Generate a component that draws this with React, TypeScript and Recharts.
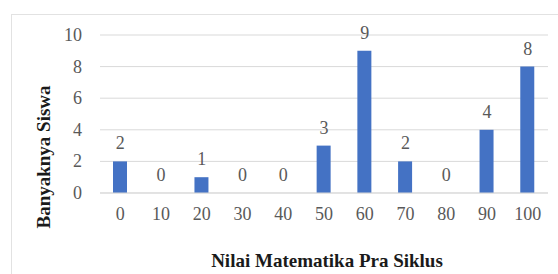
import React from 'react';
import { ComposedChart, Bar, Line, XAxis, YAxis, CartesianGrid, LabelList } from 'recharts';

const categories = ['0', '10', '20', '30', '40', '50', '60', '70', '80', '90', '100'];
const counts = [2, 0, 1, 0, 0, 3, 9, 2, 0, 4, 8];
const yTicks = [0, 2, 4, 6, 8, 10];
const xTitle = 'Nilai Matematika Pra Siklus';
const yTitle = 'Banyaknya Siswa';

const data = categories.map((c, i) => ({ nilai: c, jumlah: counts[i] }));

const FONT = '"Liberation Serif"';
const GRAY = '#595959';
const TICK_STYLE = { fontFamily: FONT, fontSize: 18 };

const YTitle = (props: any) => {
  const vb = props.viewBox || { x: 0, y: 0, width: 0, height: 0 };
  const cx = vb.x + 43;
  const cy = vb.y + vb.height / 2 + 43;
  return (
    <text x={cx} y={cy} transform={`rotate(-90 ${cx} ${cy})`} textAnchor="middle" dominantBaseline="central"
      style={{ fontFamily: FONT, fontSize: 19, fontWeight: 'bold' }} fill="#1a1a1a">{yTitle}</text>
  );
};

const XTitle = (props: any) => {
  const vb = props.viewBox || { x: 0, y: 0, width: 0, height: 0 };
  const cx = vb.x + vb.width / 2 + 3;
  const cy = vb.y + 74;
  return (
    <text x={cx} y={cy} textAnchor="middle" style={{ fontFamily: FONT, fontSize: 19, fontWeight: 'bold' }} fill="#1a1a1a">{xTitle}</text>
  );
};

const XTick = (props: any) => {
  const { x, y, payload } = props;
  return (
    <text x={x} y={y + 14} textAnchor="middle" dominantBaseline="hanging" fill={GRAY} style={TICK_STYLE}>{payload.value}</text>
  );
};

const YTick = (props: any) => {
  const { x, y, payload } = props;
  return (
    <text x={x - 18} y={y} textAnchor="end" dominantBaseline="central" fill={GRAY} style={TICK_STYLE}>{payload.value}</text>
  );
};

const ValueLabel = (props: any) => {
  const { x, y, value } = props;
  return (
    <text x={x} y={y - 12} textAnchor="middle" fill={GRAY} style={TICK_STYLE}>{value}</text>
  );
};

export default function App() {
  return (
    <div style={{ position: 'absolute', left: 0, top: 0, width: 558, height: 274, background: '#fff', overflow: 'hidden' }}>
      <div style={{ position: 'absolute', left: 11, top: 14, width: 600, height: 300, border: '1px solid #e2e2e2' }} />
      <div style={{ position: 'absolute', left: 0, top: 0 }}>
        <ComposedChart width={558} height={274} data={data} margin={{ top: 35, right: 10, bottom: 6, left: 0 }} barCategoryGap={0}>
          <CartesianGrid vertical={false} stroke="#d9d9d9" />
          <XAxis dataKey="nilai" height={75} tickSize={0} tickMargin={0} axisLine={{ stroke: '#d9d9d9' }}
            tick={<XTick />} interval={0} label={<XTitle />} />
          <YAxis domain={[0, 10]} ticks={yTicks} width={100} tickSize={0} tickMargin={0} axisLine={false}
            tick={<YTick />} label={<YTitle />} />
          <Bar dataKey="jumlah" fill="#4472C4" barSize={14} isAnimationActive={false} />
          <Line dataKey="jumlah" stroke="none" dot={false} activeDot={false} legendType="none" isAnimationActive={false}>
            <LabelList dataKey="jumlah" content={<ValueLabel />} />
          </Line>
        </ComposedChart>
      </div>
    </div>
  );
}
